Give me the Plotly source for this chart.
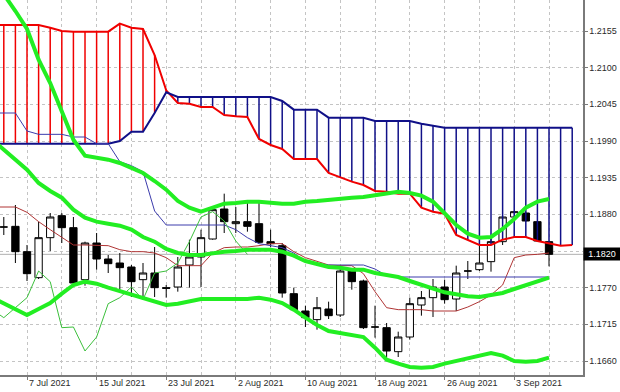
import plotly.graph_objects as go

# ---------------- data (EURUSD daily) ----------------
bar_index = list(range(-2, 46))
open_ = [1.1861, 1.1862, 1.1824, 1.1785, 1.1845, 1.1878, 1.1860, 1.1782, 1.1837, 1.1813,
         1.1807, 1.1801, 1.1782, 1.1792, 1.1770, 1.1771, 1.1804, 1.1816, 1.1843, 1.1888,
         1.1866, 1.1869, 1.1866, 1.1839, 1.1833, 1.1761, 1.1735, 1.1722, 1.1738, 1.1729,
         1.1795, 1.1780, 1.1711, 1.1710, 1.1674, 1.1696, 1.1744, 1.1755, 1.1771, 1.1753,
         1.1795, 1.1797, 1.1809, 1.1839, 1.1876, 1.1882, 1.1869, 1.1839]
high = [1.1876, 1.1894, 1.1834, 1.1869, 1.1882, 1.1882, 1.1876, 1.1839, 1.1852, 1.1819,
        1.1822, 1.1804, 1.1807, 1.1831, 1.1774, 1.1816, 1.1842, 1.1857, 1.1890, 1.1911,
        1.1891, 1.1897, 1.1899, 1.1857, 1.1837, 1.1770, 1.1743, 1.1756, 1.1749, 1.1804,
        1.1797, 1.1782, 1.1743, 1.1717, 1.1704, 1.1755, 1.1765, 1.1783, 1.1782, 1.1803,
        1.1810, 1.1834, 1.1845, 1.1876, 1.1885, 1.1884, 1.1870, 1.1840]
low = [1.1849, 1.1807, 1.1780, 1.1783, 1.1825, 1.1837, 1.1776, 1.1773, 1.1797, 1.1792,
       1.1767, 1.1756, 1.1755, 1.1756, 1.1755, 1.1764, 1.1770, 1.1771, 1.1842, 1.1852,
       1.1852, 1.1854, 1.1837, 1.1831, 1.1755, 1.1736, 1.1711, 1.1707, 1.1723, 1.1726,
       1.1767, 1.1708, 1.1695, 1.1666, 1.1666, 1.1692, 1.1728, 1.1726, 1.1746, 1.1735,
       1.1783, 1.1795, 1.1794, 1.1834, 1.1873, 1.1869, 1.1839, 1.1802]
close = [1.1861, 1.1824, 1.1791, 1.1845, 1.1876, 1.1860, 1.1777, 1.1837, 1.1813, 1.1806,
         1.1800, 1.1779, 1.1792, 1.1770, 1.1769, 1.1801, 1.1816, 1.1845, 1.1887, 1.1869,
         1.1869, 1.1862, 1.1838, 1.1836, 1.1762, 1.1737, 1.1725, 1.1740, 1.1728, 1.1795,
         1.1779, 1.1710, 1.1711, 1.1675, 1.1696, 1.1746, 1.1755, 1.1771, 1.1752, 1.1792,
         1.1795, 1.1807, 1.1839, 1.1876, 1.1884, 1.1870, 1.1840, 1.1820]

line_index = list(range(-3, 46))
tenkan = [1.1891, 1.1891, 1.1891, 1.1883, 1.1869, 1.1857, 1.1845, 1.1834, 1.1834, 1.1834,
          1.1833, 1.1827, 1.1824, 1.1824, 1.1822, 1.1815, 1.1803, 1.1803, 1.1803, 1.1822,
          1.1830, 1.1831, 1.1831, 1.1833, 1.1836, 1.1836, 1.1824, 1.1815, 1.1809, 1.1804,
          1.1803, 1.1803, 1.1791, 1.1764, 1.1740, 1.1737, 1.1737, 1.1737, 1.1735, 1.1735,
          1.1735, 1.1741, 1.1749, 1.1759, 1.1774, 1.1815, 1.1819, 1.1820, 1.1822]
kijun = [1.2032, 1.2032, 1.2032, 1.2005, 1.2000, 1.2000, 1.2000, 1.1996, 1.1996, 1.1986,
         1.1986, 1.1959, 1.1953, 1.1944, 1.1885, 1.1864, 1.1864, 1.1864, 1.1864, 1.1864,
         1.1864, 1.1857, 1.1845, 1.1836, 1.1833, 1.1830, 1.1822, 1.1809, 1.1806, 1.1804,
         1.1804, 1.1804, 1.1804, 1.1798, 1.1788, 1.1786, 1.1786, 1.1786, 1.1786, 1.1786,
         1.1786, 1.1786, 1.1786, 1.1786, 1.1786, 1.1786, 1.1786, 1.1786, 1.1786]
bb_upper = [1.2235, 1.2211, 1.2185, 1.2158, 1.2112, 1.2077, 1.2035, 1.1992, 1.1968, 1.1965,
            1.1962, 1.1957, 1.1949, 1.1942, 1.1930, 1.1917, 1.1900, 1.1890, 1.1884, 1.1890,
            1.1896, 1.1897, 1.1899, 1.1899, 1.1897, 1.1896, 1.1896, 1.1899, 1.1900, 1.1902,
            1.1903, 1.1905, 1.1906, 1.1909, 1.1912, 1.1914, 1.1912, 1.1908, 1.1899, 1.1882,
            1.1864, 1.1851, 1.1845, 1.1846, 1.1858, 1.1873, 1.1890, 1.1899, 1.1903]
bb_middle = [1.1992, 1.1977, 1.1962, 1.1947, 1.1927, 1.1915, 1.1905, 1.1887, 1.1875, 1.1869,
             1.1866, 1.1863, 1.1857, 1.1846, 1.1839, 1.1828, 1.1822, 1.1819, 1.1819, 1.1822,
             1.1824, 1.1825, 1.1827, 1.1827, 1.1827, 1.1824, 1.1818, 1.1810, 1.1806, 1.1801,
             1.1800, 1.1797, 1.1797, 1.1792, 1.1789, 1.1786, 1.1780, 1.1774, 1.1768, 1.1763,
             1.1760, 1.1757, 1.1756, 1.1759, 1.1762, 1.1768, 1.1774, 1.1780, 1.1785]
bb_lower = [1.1755, 1.1746, 1.1737, 1.1729, 1.1738, 1.1747, 1.1761, 1.1774, 1.1779, 1.1776,
            1.1770, 1.1765, 1.1759, 1.1755, 1.1749, 1.1744, 1.1746, 1.1750, 1.1753, 1.1753,
            1.1753, 1.1753, 1.1753, 1.1755, 1.1752, 1.1747, 1.1737, 1.1725, 1.1714, 1.1705,
            1.1702, 1.1700, 1.1696, 1.1680, 1.1662, 1.1656, 1.1651, 1.1650, 1.1651, 1.1656,
            1.1660, 1.1665, 1.1669, 1.1672, 1.1668, 1.1660, 1.1659, 1.1660, 1.1665]

chikou_index = list(range(-3, 20))
chikou = [1.1737, 1.1725, 1.1740, 1.1755, 1.1795, 1.1779, 1.1710, 1.1711, 1.1675, 1.1696,
          1.1746, 1.1755, 1.1771, 1.1752, 1.1792, 1.1795, 1.1807, 1.1839, 1.1876, 1.1884,
          1.1870, 1.1840, 1.1820]

cloud_index = list(range(-3, 48))
span_a = [1.2164, 1.2164, 1.2164, 1.2164, 1.2164, 1.2160, 1.2155, 1.2154, 1.2154, 1.2154,
          1.2154, 1.2166, 1.2160, 1.2158, 1.2119, 1.2066, 1.2047, 1.2046, 1.2041, 1.2041,
          1.2029, 1.2027, 1.2026, 1.1993, 1.1984, 1.1978, 1.1963, 1.1963, 1.1963, 1.1942,
          1.1935, 1.1929, 1.1924, 1.1915, 1.1914, 1.1911, 1.1911, 1.1890, 1.1884, 1.1881,
          1.1849, 1.1842, 1.1834, 1.1834, 1.1842, 1.1846, 1.1846, 1.1840, 1.1837, 1.1833,
          1.1834]
span_b = [1.1986, 1.1986, 1.1986, 1.1986, 1.1986, 1.1986, 1.1986, 1.1986, 1.1986, 1.1986,
          1.1986, 1.1990, 1.2004, 1.2004, 1.2032, 1.2063, 1.2056, 1.2056, 1.2056, 1.2056,
          1.2056, 1.2056, 1.2056, 1.2056, 1.2056, 1.2050, 1.2037, 1.2037, 1.2037, 1.2025,
          1.2025, 1.2025, 1.2025, 1.2020, 1.2020, 1.2020, 1.2020, 1.2016, 1.2013, 1.2010,
          1.2010, 1.2010, 1.2010, 1.2010, 1.2010, 1.2010, 1.2010, 1.2010, 1.2010, 1.2010,
          1.2010]

tick_index = [-6, 0, 6, 12, 18, 24, 30, 36, 42]
tick_labels = ["29 Jun 2021", "7 Jul 2021", "15 Jul 2021", "23 Jul 2021", "2 Aug 2021",
               "10 Aug 2021", "18 Aug 2021", "26 Aug 2021", "3 Sep 2021"]
last_price = 1.1820

# ---------------- styling ----------------
RED = "#f00000"
NAVY = "#101088"
LIME = "#22ee22"
GRID = "#c4c4c4"
AXIS = "#7a7a7a"
TXT = "#2a2a2a"
FONT = "Liberation Sans"

fig = go.Figure()

# cloud hatching (vertical lines between the two spans)
hx_r, hy_r, hx_b, hy_b = [], [], [], []
for i, a, b in zip(cloud_index, span_a, span_b):
    if a > b:
        hx_r += [i, i, None]
        hy_r += [a, b, None]
    elif b > a:
        hx_b += [i, i, None]
        hy_b += [b, a, None]
fig.add_trace(go.Scatter(x=hx_r, y=hy_r, mode="lines", line=dict(color=RED, width=1.5),
                         hoverinfo="skip"))
fig.add_trace(go.Scatter(x=hx_b, y=hy_b, mode="lines", line=dict(color=NAVY, width=1.5),
                         hoverinfo="skip"))
fig.add_trace(go.Scatter(x=cloud_index, y=span_a, mode="lines", line=dict(color=RED, width=2)))
fig.add_trace(go.Scatter(x=cloud_index, y=span_b, mode="lines", line=dict(color=NAVY, width=2)))

# candles
fig.add_trace(go.Candlestick(
    x=bar_index, open=open_, high=high, low=low, close=close,
    increasing=dict(line=dict(color="black", width=1), fillcolor="white"),
    decreasing=dict(line=dict(color="black", width=1), fillcolor="black"),
    whiskerwidth=0))

# ichimoku thin lines
fig.add_trace(go.Scatter(x=line_index, y=tenkan, mode="lines", line=dict(color="#b03535", width=1)))
fig.add_trace(go.Scatter(x=line_index, y=kijun, mode="lines", line=dict(color="#3c3cac", width=1)))
fig.add_trace(go.Scatter(x=chikou_index, y=chikou, mode="lines", line=dict(color="#3cc03c", width=1)))

# bollinger bands
for band in (bb_upper, bb_middle, bb_lower):
    fig.add_trace(go.Scatter(x=line_index, y=band, mode="lines", line=dict(color=LIME, width=4)))

fig.update_layout(
    width=620, height=392,
    margin=dict(l=0, r=37, t=0, b=17),
    paper_bgcolor="white", plot_bgcolor="white",
    showlegend=False,
    boxgap=0.3, boxgroupgap=0.1,
    font=dict(family=FONT, size=9, color=TXT),
)
fig.update_xaxes(
    range=[-2.328, 47.93], tickmode="linear", tick0=0, dtick=6,
    showticklabels=False, ticks="outside", ticklen=3, tickcolor=AXIS,
    showgrid=True, gridcolor=GRID, griddash="dot", gridwidth=1,
    minor=dict(tickmode="linear", tick0=0, dtick=3, showgrid=True, gridcolor=GRID,
               griddash="dot", ticks=""),
    showline=True, linecolor=AXIS, linewidth=1.5, zeroline=False,
    rangeslider_visible=False,
)
fig.update_yaxes(
    range=[1.1639, 1.22015], side="right", tickmode="linear", tick0=1.1660, dtick=0.0055,
    tickformat=".4f", ticks="outside", ticklen=3, tickcolor=AXIS,
    showgrid=True, gridcolor=GRID, griddash="dot", gridwidth=1,
    showline=True, linecolor=AXIS, linewidth=1.5, zeroline=False,
    tickfont=dict(family=FONT, size=9, color=TXT),
)

for t, lab in zip(tick_index, tick_labels):
    fig.add_annotation(x=t, y=0, xref="x", yref="paper", text=lab, showarrow=False,
                       xanchor="left", yanchor="top", yshift=-1,
                       font=dict(family=FONT, size=9, color=TXT))

fig.add_shape(type="line", xref="paper", x0=0, x1=1, yref="y", y0=last_price, y1=last_price,
              line=dict(color="#b0b0b0", width=1), layer="below")
fig.add_annotation(x=1, xref="paper", y=last_price, yref="y", text=f"{last_price:.4f}",
                   showarrow=False, xanchor="left", yanchor="middle", bgcolor="black",
                   font=dict(family=FONT, size=9, color="white"), borderpad=1,
                   width=34, align="center")

fig.write_html("out.html",
               config={"displayModeBar": False, "staticPlot": True},
               post_script="document.body.style.margin='0';document.body.style.overflow='hidden';")
